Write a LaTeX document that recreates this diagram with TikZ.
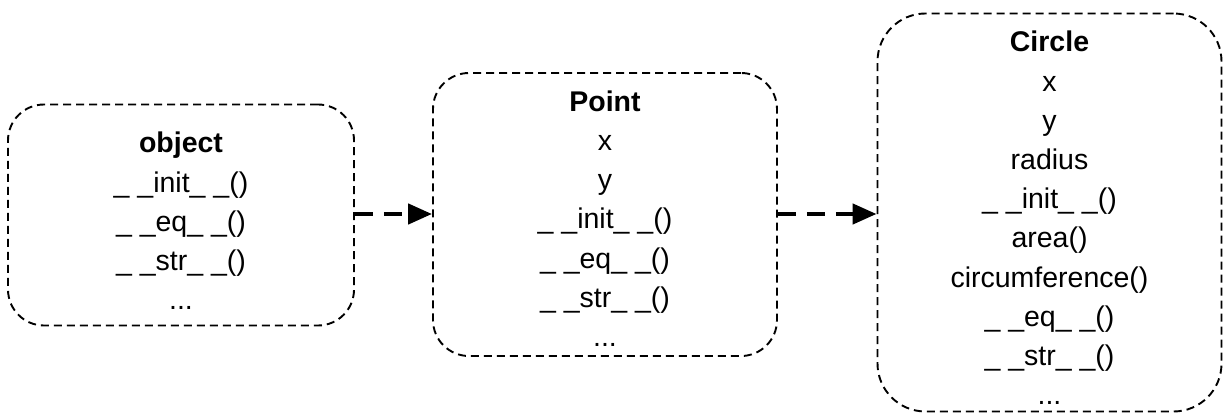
\documentclass[tikz,border=0pt]{standalone}
\usepackage{fontspec}
\setmainfont{Liberation Sans}
\usetikzlibrary{arrows.meta}
\begin{document}
\begin{tikzpicture}[x=1pt,y=-1pt,
  classbox/.style={draw=black, line width=1.9pt, dash pattern=on 8pt off 5pt, rounded corners=36pt, inner sep=0pt},
  classtext/.style={align=center, inner sep=0pt, font=\fontsize{28.5}{39.2}\selectfont},
  conn/.style={line width=4.5pt, dash pattern=on 18pt off 11pt, -{Triangle[length=24pt,width=20pt]}}]
\useasboundingbox (0,0) rectangle (1223,414);
\node[classbox, minimum width=346pt, minimum height=221pt] (obj) at (181,215) {};
\node[classtext] (objt) at (181,221) {\textbf{object}\\\_ \_init\_ \_()\\\_ \_eq\_ \_()\\\_ \_str\_ \_()\\...};
\node[classbox, minimum width=344pt, minimum height=283pt] (pt) at (605,214.5) {};
\node[classtext] (ptt) at (605,218.5) {\textbf{Point}\\x\\y\\\_ \_init\_ \_()\\\_ \_eq\_ \_()\\\_ \_str\_ \_()\\...};
\node[classbox, rounded corners=48pt, minimum width=344pt, minimum height=398pt] (cir) at (1049.5,212.5) {};
\node[classtext] (cirt) at (1049.5,218) {\textbf{Circle}\\x\\y\\radius\\\_ \_init\_ \_()\\area()\\circumference()\\\_ \_eq\_ \_()\\\_ \_str\_ \_()\\...};
\draw[conn] (obj.east |- 0,214) -- (pt.west |- 0,214);
\draw[conn] (pt.east |- 0,214) -- (cir.west |- 0,214);
\end{tikzpicture}
\end{document}
